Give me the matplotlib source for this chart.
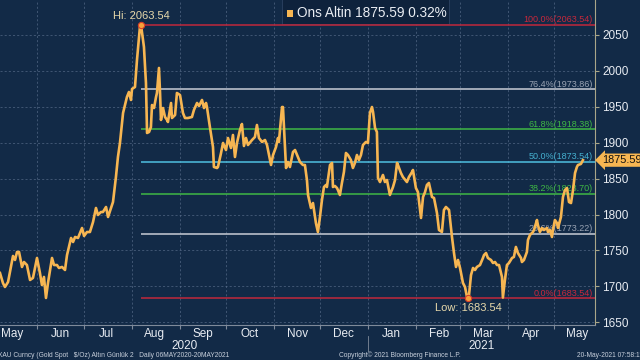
import pandas as pd
import matplotlib
matplotlib.use("Agg")
import matplotlib.pyplot as plt
import matplotlib.dates as mdates
import matplotlib.transforms as mtrans
from matplotlib.patches import Rectangle

# gold spot (days after 2020-05-08, price)
start = pd.Timestamp("2020-05-08")
day_offset = [
    0.0, 1.9, 3.2, 5.2, 8.4, 9.7, 11.0, 12.3, 14.2, 15.5, 17.4, 19.4, 21.3, 23.9,
    25.8, 27.1, 28.4, 29.7, 31.0, 33.6, 34.9, 36.8, 38.1, 40.1, 42.0, 43.3, 45.9,
    47.2, 48.5, 50.4, 53.0, 54.3, 56.2, 58.1, 60.1, 62.0, 63.3, 65.2, 66.5, 68.5,
    69.8, 71.7, 73.0, 74.9, 76.2, 77.5, 79.5, 82.0, 83.3, 84.6, 85.3, 87.2, 88.5,
    90.4, 91.1, 92.4, 93.0, 94.3, 95.0, 96.3, 97.5, 98.2, 99.5, 100.8, 101.4,
    102.7, 103.4, 104.0, 105.3, 106.6, 107.9, 108.5, 110.5, 111.1, 113.1, 114.3,
    116.3, 118.2, 119.5, 121.4, 124.0, 125.3, 127.3, 128.6, 130.5, 131.8, 133.1,
    133.7, 135.7, 137.6, 138.2, 140.2, 140.8, 142.8, 144.1, 146.0, 147.3, 149.2,
    150.5, 151.8, 153.1, 155.0, 156.3, 157.6, 158.9, 160.2, 162.8, 164.7, 166.0,
    167.3, 169.3, 171.2, 172.5, 175.1, 176.4, 178.3, 179.6, 180.2, 182.2, 182.8,
    184.8, 186.0, 187.3, 189.3, 190.6, 191.9, 193.8, 195.7, 197.0, 198.3, 199.0,
    200.9, 202.2, 204.1, 205.4, 206.7, 208.0, 209.3, 210.6, 211.2, 213.2, 214.5,
    215.1, 216.4, 217.7, 218.3, 219.6, 220.9, 222.2, 223.5, 224.8, 226.7, 228.0,
    229.3, 230.6, 231.9, 233.2, 234.5, 236.4, 237.7, 239.0, 240.3, 241.0, 242.3,
    243.5, 244.2, 245.5, 247.4, 248.7, 250.0, 251.9, 253.9, 255.2, 256.5, 257.1,
    259.0, 260.3, 262.9, 264.2, 266.2, 266.8, 268.7, 270.0, 272.0, 273.3, 274.6,
    275.8, 277.1, 279.1, 280.4, 282.3, 283.6, 285.5, 286.8, 288.1, 290.1, 292.0,
    293.3, 294.6, 295.9, 297.2, 299.1, 300.4, 301.7, 302.3, 303.0, 304.3, 305.6,
    306.9, 308.1, 310.1, 312.0, 312.7, 314.0, 315.2, 317.2, 318.5, 319.8, 321.1,
    322.4, 324.3, 324.9, 326.2, 327.5, 328.8, 330.8, 332.0, 333.3, 334.6, 336.6,
    337.2, 338.5, 340.4, 341.1, 342.4, 344.3, 345.0, 346.9, 347.5, 348.8, 350.1,
    351.4, 353.4, 354.0, 355.3, 356.6, 357.2, 358.5, 359.8, 360.5, 362.4, 363.7,
    365.0, 366.3, 367.6, 368.9, 370.2, 371.5, 372.7, 373.4, 375.3, 376.6,
]
price = [
    1718.7, 1704.8, 1699.3, 1706.2, 1742.4, 1736.8, 1747.9, 1747.9, 1727.1, 1734.0,
    1729.8, 1709.0, 1711.8, 1739.6, 1718.7, 1702.0, 1713.2, 1684.0, 1704.8, 1739.6,
    1729.8, 1729.8, 1725.7, 1727.1, 1722.9, 1743.7, 1767.4, 1761.8, 1768.8, 1767.4,
    1781.3, 1770.2, 1775.7, 1775.7, 1789.6, 1809.1, 1799.4, 1803.5, 1803.5, 1810.5,
    1796.6, 1809.1, 1817.4, 1852.2, 1880.0, 1899.5, 1941.2, 1963.4, 1970.4, 1959.3,
    1974.6, 1977.3, 2014.9, 2060.8, 2063.54, 2042.7, 2033.0, 1982.9, 1913.4, 1914.8,
    1921.7, 1952.3, 1948.1, 1963.4, 1969.0, 2003.8, 1969.0, 1931.5, 1948.1, 1935.6,
    1931.5, 1928.7, 1955.1, 1934.2, 1938.4, 1969.0, 1966.2, 1941.2, 1934.2, 1934.2,
    1935.6, 1945.4, 1955.1, 1950.9, 1959.3, 1948.1, 1955.1, 1949.5, 1920.3, 1893.9,
    1866.1, 1864.7, 1866.1, 1885.6, 1899.5, 1889.7, 1906.4, 1892.5, 1910.6, 1880.0,
    1899.5, 1917.5, 1925.9, 1895.3, 1906.4, 1896.7, 1903.6, 1907.8, 1924.5, 1906.4,
    1900.9, 1903.6, 1896.7, 1868.9, 1882.8, 1893.9, 1906.4, 1900.9, 1949.5, 1949.5,
    1864.7, 1873.1, 1866.1, 1887.0, 1889.7, 1882.8, 1873.1, 1868.9, 1868.9, 1848.0,
    1827.2, 1809.1, 1816.0, 1788.2, 1775.7, 1796.6, 1820.2, 1838.3, 1841.1, 1838.3,
    1868.9, 1871.7, 1838.3, 1839.7, 1836.9, 1834.1, 1827.2, 1843.9, 1859.2, 1885.6,
    1882.8, 1875.8, 1864.7, 1871.7, 1882.8, 1875.8, 1882.8, 1896.7, 1900.9, 1899.5,
    1941.2, 1949.5, 1942.6, 1920.3, 1914.8, 1850.8, 1845.2, 1855.0, 1845.2, 1848.0,
    1827.2, 1838.3, 1848.0, 1871.7, 1868.9, 1857.8, 1852.2, 1845.2, 1852.2, 1859.2,
    1861.9, 1836.9, 1831.3, 1795.2, 1824.4, 1831.3, 1841.1, 1843.9, 1824.4, 1823.0,
    1802.1, 1778.5, 1775.7, 1806.3, 1810.5, 1806.3, 1768.8, 1746.5, 1727.1, 1736.8,
    1725.7, 1704.8, 1699.3, 1685.4, 1683.54, 1688.1, 1715.9, 1725.7, 1722.9, 1727.1,
    1729.8, 1739.6, 1743.7, 1746.5, 1739.6, 1736.8, 1732.6, 1734.0, 1729.8, 1729.8,
    1713.2, 1684.5, 1709.0, 1729.8, 1732.6, 1739.6, 1741.0, 1754.9, 1746.5, 1739.6,
    1734.0, 1736.8, 1747.9, 1764.6, 1771.6, 1775.7, 1778.5, 1792.4, 1785.5, 1775.7,
    1781.3, 1778.5, 1781.3, 1775.7, 1778.5, 1768.8, 1778.5, 1792.4, 1788.2, 1781.3,
    1796.6, 1824.4, 1834.1, 1836.9, 1817.4, 1816.0, 1834.1, 1857.8, 1866.1, 1868.9,
    1870.3, 1875.59,
]

fib_pct = [100.0, 76.4, 61.8, 50.0, 38.2, 23.6, 0.0]
fib_level = [2063.54, 1973.86, 1918.38, 1873.54, 1828.70, 1773.22, 1683.54]
fib_line_col = ["#c0283c", "#c8ccd6", "#3fb845", "#4fc0e0", "#3fb845", "#c8ccd6", "#c0283c"]
fib_text_col = ["#c8283c", "#9aa4b4", "#3fb845", "#45b0d0", "#3fb845", "#9aa4b4", "#c8283c"]

hi_val, lo_val = 2063.54, 1683.54
last_val, last_chg = 1875.59, 0.32

dates = start + pd.to_timedelta(day_offset, unit="D")
hi_date = dates[price.index(hi_val)]
lo_date = dates[price.index(lo_val)]

bg = "#122a47"
line_col = "#f7b652"
txt = "#e8ecf2"
plt.rcParams["font.family"] = ["Liberation Sans Narrow", "Liberation Sans", "DejaVu Sans"]

fig = plt.figure(figsize=(6.4, 3.6), dpi=100, facecolor=bg)
ax = fig.add_axes([0, 35 / 360, 595 / 640, 325 / 360], facecolor=bg)

x0 = start
x1 = start + pd.Timedelta(days=384.4)
ax.set_xlim(x0, x1)
ax.set_ylim(1646.4, 2098.3)

ax.plot(dates, price, color=line_col, lw=1.9, solid_joinstyle="round", zorder=4)

# fibonacci retracement levels
for pct, lvl, lc, tc in zip(fib_pct, fib_level, fib_line_col, fib_text_col):
    ax.hlines(lvl, hi_date, x1, color=lc, lw=1.1, zorder=3)
    ax.text(x1 - pd.Timedelta(days=1.5), lvl + 1, f"{pct:.1f}%({lvl:.2f})",
            color=tc, fontsize=6.5, ha="right", va="bottom", zorder=3)

# hi / low markers
ax.plot([hi_date], [hi_val], "o", ms=4.5, color="#f5a23a", mec="#d8402a", mew=0.8, zorder=5)
ax.plot([lo_date], [lo_val], "o", ms=4.5, color="#f5a23a", mec="#d8402a", mew=0.8, zorder=5)
ax.text(hi_date, hi_val + 6, f"Hi: {hi_val:.2f}", color="#e6d8aa", fontsize=8,
        ha="center", va="bottom", zorder=6)
ax.text(lo_date, lo_val - 6, f"Low: {lo_val:.2f}", color="#e6d8aa", fontsize=8,
        ha="center", va="top", zorder=6)

# axes styling
ax.grid(True, which="major", color="#5d7290", ls=(0, (2.5, 2.5)), lw=0.6, alpha=0.7)
for s in ["left", "top"]:
    ax.spines[s].set_visible(False)
ax.spines["right"].set_color("#a9a689")
ax.spines["bottom"].set_color("#7f8a9a")
ax.yaxis.tick_right()
ax.set_yticks(range(1650, 2051, 50))
ax.tick_params(axis="y", colors="#a9a689", labelcolor=txt, labelsize=8.5, length=3, pad=2)

ax.xaxis.set_major_locator(mdates.MonthLocator())
ax.xaxis.set_major_formatter(plt.NullFormatter())
ax.xaxis.set_minor_locator(mdates.MonthLocator(bymonthday=16))
ax.xaxis.set_minor_formatter(mdates.DateFormatter("%b"))
ax.tick_params(axis="x", which="major", colors="#7f8a9a", length=3)
ax.tick_params(axis="x", which="minor", length=0, labelcolor=txt, labelsize=8.5, pad=2)

# year labels under months
trans = mtrans.blended_transform_factory(ax.transData, ax.transAxes)
y2021 = pd.Timestamp("2021-01-01")
ax.text(x0 + (y2021 - x0) / 2, -0.064, "2020", transform=trans, color=txt,
        fontsize=8.5, ha="center", va="center")
ax.text(y2021 + (x1 - y2021) / 2, -0.064, "2021", transform=trans, color=txt,
        fontsize=8.5, ha="center", va="center")
ax.plot([y2021, y2021], [-0.035, -0.08], transform=trans, color="#7f8a9a", lw=0.6,
        clip_on=False)

# last price tag
ytr = mtrans.blended_transform_factory(ax.transAxes, ax.transData)
ax.text(1.012, last_val, f"{last_val:.2f}", transform=ytr, color="#111111",
        fontsize=7.8, ha="left", va="center", zorder=7,
        bbox=dict(boxstyle="larrow,pad=0.15", fc="#f7b652", ec="none"))

# legend box (drawn under the fib lines, like the reference)
ax.add_patch(Rectangle((282 / 640, 336 / 360), 167 / 640, 25 / 360,
                       transform=fig.transFigure, fc="#0e223c", ec="#2c4262", lw=0.6,
                       zorder=2.5, clip_on=False))
ax.add_patch(Rectangle((287 / 640, 343 / 360), 6 / 640, 7 / 360,
                       transform=fig.transFigure, fc=line_col, ec="none", zorder=8,
                       clip_on=False))
ax.text(297 / 640, 347 / 360, f"Ons Altin {last_val:.2f} {last_chg:.2f}%",
        transform=fig.transFigure, color=txt, fontsize=9.8, ha="left", va="center",
        zorder=8)

# footer
foot = "#c8d0dc"
fig.text(-0.003, 0.004, "XAU Curncy (Gold Spot   $/Oz) Altın Günlük 2   Daily 06MAY2020-20MAY2021",
         color=foot, fontsize=4.8, ha="left", va="bottom")
fig.text(400 / 640, 0.004, "Copyright© 2021 Bloomberg Finance L.P.", color=foot,
         fontsize=4.8, ha="center", va="bottom")
fig.text(1.004, 0.004, "20-May-2021 07:58:11", color=foot, fontsize=4.8,
         ha="right", va="bottom")

fig.savefig("out.png", dpi=100, facecolor=bg)
